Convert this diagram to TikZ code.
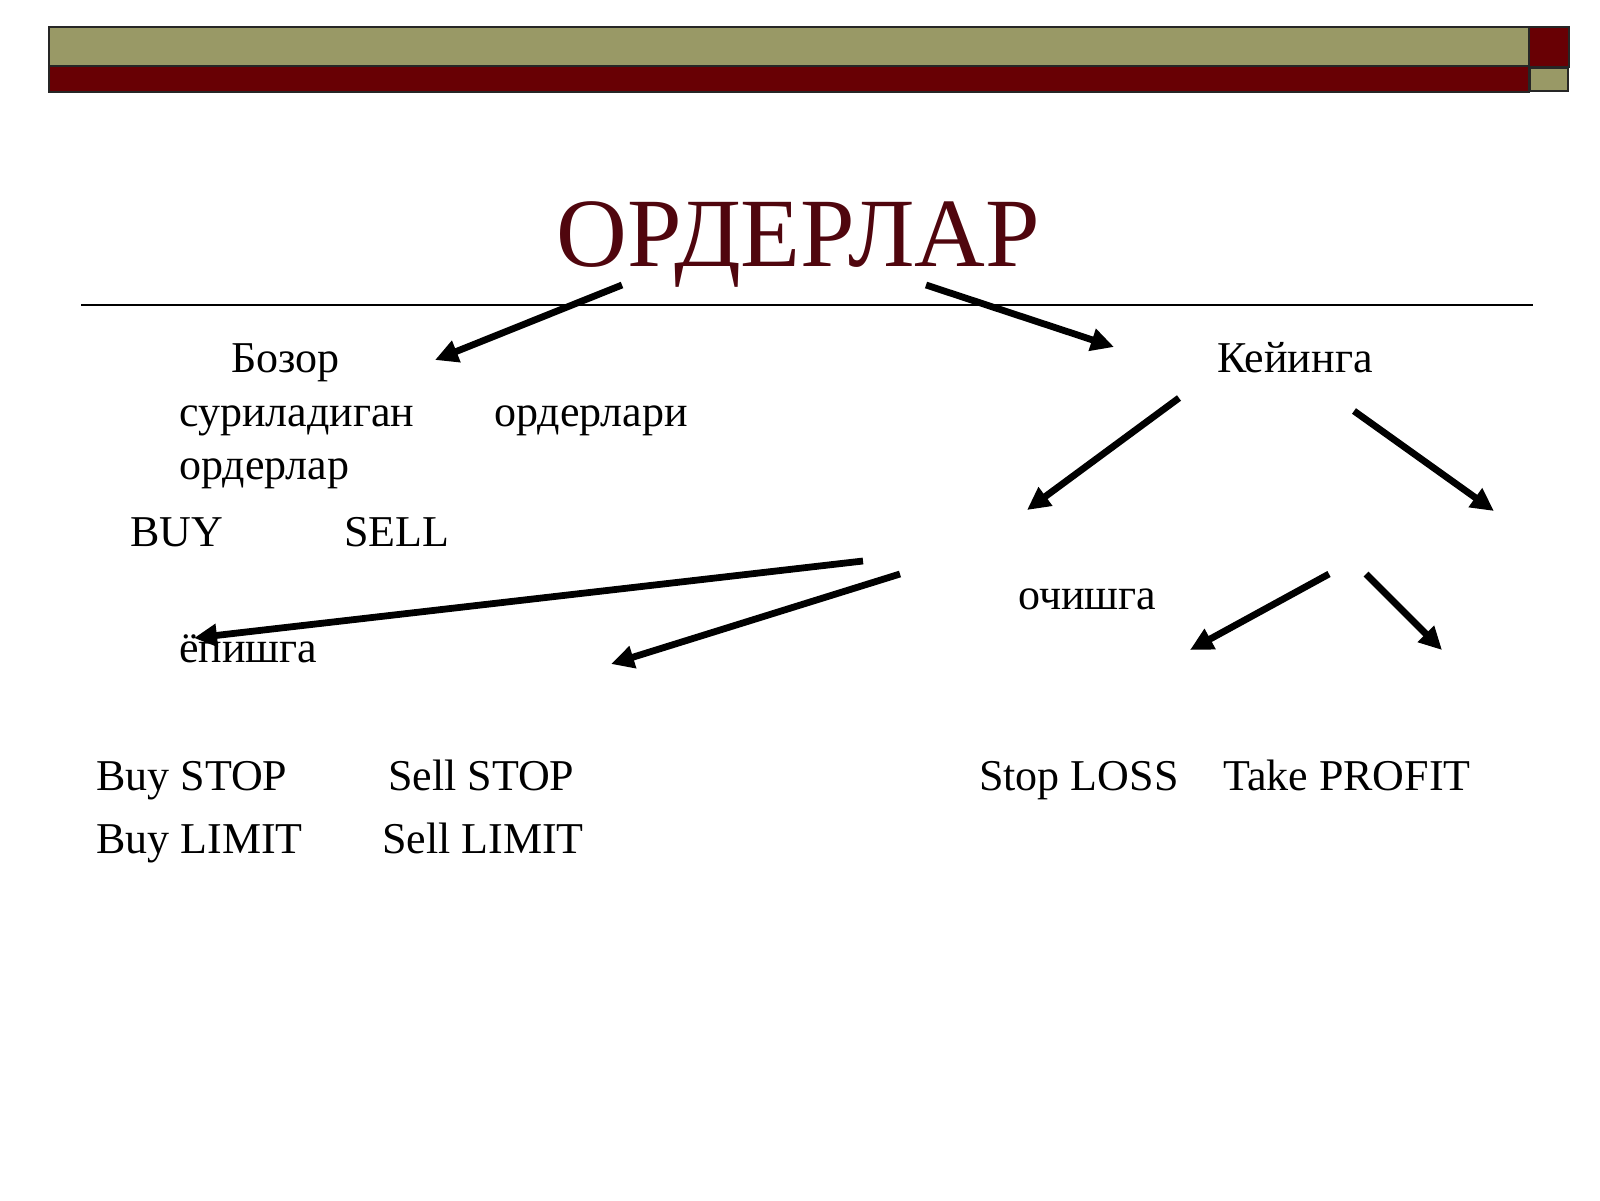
\documentclass[tikz,border=0pt]{standalone}
\usepackage{fontspec}
\setmainfont{Liberation Serif}
\usetikzlibrary{arrows.meta}
\definecolor{olivebar}{RGB}{153,153,102}
\definecolor{maroonbar}{RGB}{104,0,4}
\definecolor{titlecol}{RGB}{80,6,14}
\begin{document}
\begin{tikzpicture}[x=1pt,y=-1pt,
  txt/.style={anchor=base west,inner sep=0pt,font=\fontsize{44}{52}\selectfont},
  ttl/.style={anchor=base,inner sep=0pt,text=titlecol,font=\fontsize{98}{114}\selectfont},
  arr/.style={line width=6.8pt,-{Triangle[length=23pt,width=22pt]}},
  barbox/.style={draw=black!85,line width=1.5pt}]
\useasboundingbox[fill=white] (0,0) rectangle (1600,1200);
% header bars
\filldraw[barbox,fill=olivebar] (49,27) rectangle (1529,66);
\filldraw[barbox,fill=maroonbar] (49,66) rectangle (1529,92);
\filldraw[barbox,fill=maroonbar] (1529,27) rectangle (1569,67);
\filldraw[barbox,fill=olivebar] (1530,68) rectangle (1568,91);
% title and rule
\node[ttl] (title) at (798,266) {ОРДЕРЛАР};
\coordinate (ruleL) at (81,305);
\coordinate (ruleR) at (1533,305);
\draw[line width=1.8pt] (ruleL) -- (ruleR);
% texts
\node[txt] (bozor) at (231,372) {Бозор};
\node[txt] (suril) at (179,426) {суриладиган};
\node[txt] (orderlar) at (179,479) {ордерлар};
\node[txt] (orderlari) at (494,426) {ордерлари};
\node[txt] (buy) at (130,546) {BUY};
\node[txt] (sell) at (344,546) {SELL};
\node[txt] (keyinga) at (1217,372) {Кейинга};
\node[txt] (ochishga) at (1018,609) {очишга};
\node[txt] (yopishga) at (179,662) {ёпишга};
\node[txt] (buystop) at (96,790) {Buy STOP};
\node[txt] (buylimit) at (96,853) {Buy LIMIT};
\node[txt] (sellstop) at (388,790) {Sell STOP};
\node[txt] (selllimit) at (382,853) {Sell LIMIT};
\node[txt] (stoploss) at (979,790) {Stop LOSS};
\node[txt] (takeprofit) at (1223,790) {Take PROFIT};
% arrow end points
\coordinate (a1s) at (622,285); \coordinate (a1e) at (435,360);
\coordinate (a2s) at (926,285); \coordinate (a2e) at (1114,347);
\coordinate (a3s) at (1179,398); \coordinate (a3e) at (1027,510);
\coordinate (a4s) at (1354,411); \coordinate (a4e) at (1494,511);
\coordinate (a5s) at (863,561); \coordinate (a5e) at (194,638);
\coordinate (a6s) at (900,574); \coordinate (a6e) at (611,664);
\coordinate (a7s) at (1329,574); \coordinate (a7e) at (1190,650);
\coordinate (a8s) at (1366,574); \coordinate (a8e) at (1442,650);
\draw[arr] (a1s) -- (a1e);
\draw[arr] (a2s) -- (a2e);
\draw[arr] (a3s) -- (a3e);
\draw[arr] (a4s) -- (a4e);
\draw[arr] (a5s) -- (a5e);
\draw[arr] (a6s) -- (a6e);
\draw[arr] (a7s) -- (a7e);
\draw[arr] (a8s) -- (a8e);
\end{tikzpicture}
\end{document}
